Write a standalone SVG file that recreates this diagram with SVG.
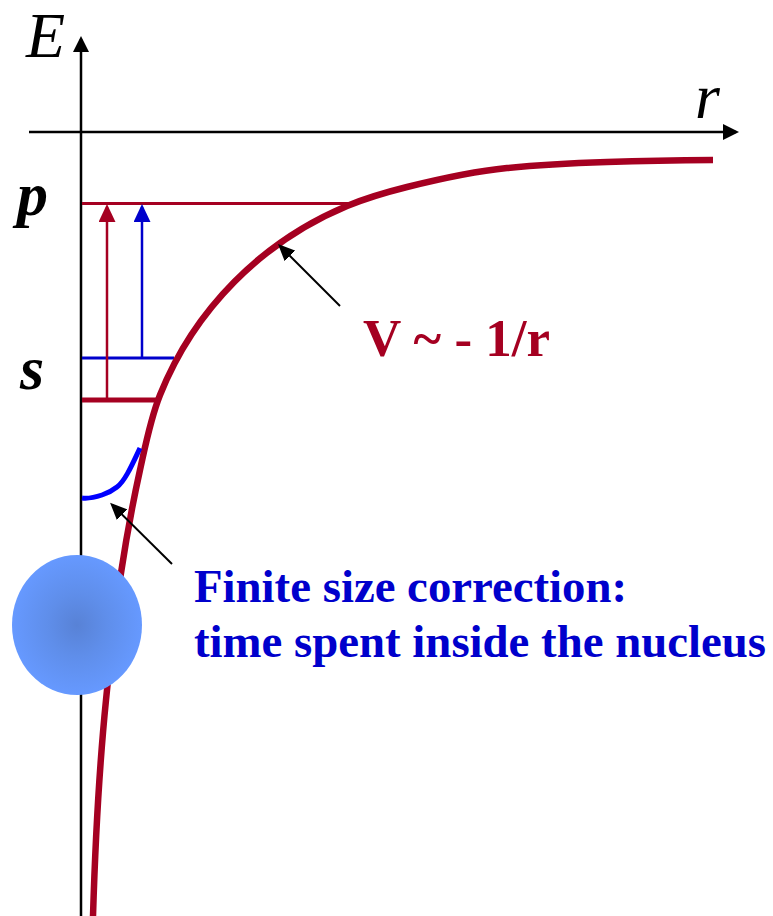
<svg xmlns="http://www.w3.org/2000/svg" width="773" height="916" viewBox="0 0 773 916">
  <style>
    .axis { stroke: #000; stroke-width: 2.5; fill: none; }
    .red { stroke: #A50021; fill: none; }
    .blue { stroke: #0000CC; fill: none; }
    .ptr { stroke: #000; stroke-width: 2; fill: none; }
    .lbl { font-family: "Liberation Serif", "Times New Roman", serif; }
  </style>
  <defs>
    <marker id="ahBlack" markerUnits="userSpaceOnUse" markerWidth="16" markerHeight="16" refX="13" refY="8" orient="auto">
      <path d="M0,0 L16,8 L0,16 z" fill="#000"/>
    </marker>
    <marker id="ahPtr" markerUnits="userSpaceOnUse" markerWidth="17" markerHeight="15" refX="14" refY="7.5" orient="auto">
      <path d="M0,0 L17,7.5 L0,15 z" fill="#000"/>
    </marker>
    <marker id="ahRed" markerUnits="userSpaceOnUse" markerWidth="18" markerHeight="17" refX="15" refY="8.5" orient="auto">
      <path d="M0,0 L18,8.5 L0,17 z" fill="#A50021"/>
    </marker>
    <marker id="ahBlue" markerUnits="userSpaceOnUse" markerWidth="18" markerHeight="17" refX="15" refY="8.5" orient="auto">
      <path d="M0,0 L18,8.5 L0,17 z" fill="#0000CC"/>
    </marker>
    <radialGradient id="nucGrad" cx="0.5" cy="0.5" r="0.5">
      <stop offset="0" stop-color="#5882D6"/>
      <stop offset="0.45" stop-color="#5F8EEA"/>
      <stop offset="1" stop-color="#6699FF"/>
    </radialGradient>
  </defs>

  <g id="axes">
    <line class="axis" x1="81" y1="916" x2="81" y2="39" marker-end="url(#ahBlack)"/>
    <line class="axis" x1="29" y1="132" x2="736" y2="132" marker-end="url(#ahBlack)"/>
  </g>

  <g id="levels">
    <line id="level-p" class="red" stroke-width="3" x1="82" y1="203.5" x2="353" y2="203.5"/>
    <line id="level-s-red" class="red" stroke-width="5" x1="82" y1="400" x2="157" y2="400"/>
    <line id="level-s-blue" class="blue" stroke-width="3" x1="82" y1="358" x2="174" y2="358"/>
  </g>

  <g id="transitions">
    <line class="red" stroke-width="2.5" x1="107" y1="400" x2="107" y2="207" marker-end="url(#ahRed)"/>
    <line class="blue" stroke-width="2.5" x1="142" y1="358" x2="142" y2="207" marker-end="url(#ahBlue)"/>
  </g>

  <g id="potential">
    <path class="red" stroke-width="6.5" d="M93,916 C95.2,843.9 98.8,771.7 106,700 C110.2,657.6 114.7,615.1 121,573 C126.2,538.5 132.5,504.1 140,470 C145.6,444.7 150.4,419 160,395 C194.2,309.4 261.9,241.5 347,206 C366.4,197.9 386.6,192.1 407,187 C439.9,178.8 473.3,171.4 507,168 C540.2,164.7 573.6,163.1 607,162 C642.3,160.8 677.7,160.2 713,160"/>
  </g>

  <g id="finite-size-curve">
    <path d="M82,498 C90,499 96,497 102,495 C108,493 112,491 117,487 C125,481 132,465 140,448" stroke="#0000FF" stroke-width="5" fill="none"/>
  </g>

  <g id="nucleus">
    <ellipse cx="77" cy="625" rx="65" ry="70" fill="url(#nucGrad)"/>
  </g>

  <g id="connectors">
    <line class="ptr" x1="340" y1="306" x2="280.1" y2="246.1" marker-end="url(#ahPtr)"/>
    <line class="ptr" x1="172" y1="564" x2="112.2" y2="504.8" marker-end="url(#ahPtr)"/>
  </g>

  <g id="labels" class="lbl">
    <text id="label-E" x="26" y="57" font-size="64" font-style="italic">E</text>
    <text id="label-r" x="695" y="118" font-size="64" font-style="italic">r</text>
    <text id="label-p" x="17" y="215" font-size="62" font-style="italic" font-weight="bold">p</text>
    <text id="label-s" x="20" y="389" font-size="62" font-style="italic" font-weight="bold">s</text>
    <text id="label-V" x="363" y="356" font-size="53" font-weight="bold" fill="#A50021">V ~ - 1/r</text>
    <text id="label-fs1" x="194" y="602" font-size="46.8" font-weight="bold" fill="#0000CC">Finite size correction:</text>
    <text id="label-fs2" x="194" y="657" font-size="46.8" font-weight="bold" fill="#0000CC">time spent inside the nucleus</text>
  </g>
</svg>
